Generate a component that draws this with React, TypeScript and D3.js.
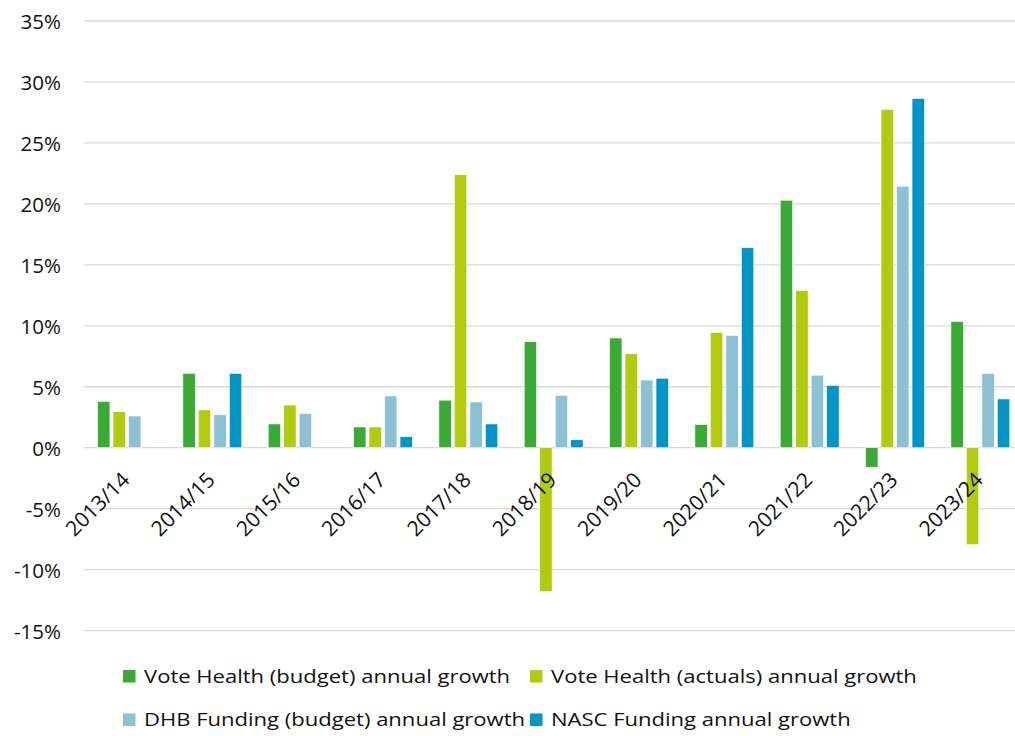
import React from "react";
import * as d3 from "d3";

const categories = ["2013/14","2014/15","2015/16","2016/17","2017/18","2018/19","2019/20","2020/21","2021/22","2022/23","2023/24"];
const seriesNames = [
  "Vote Health (budget) annual growth",
  "Vote Health (actuals) annual growth",
  "DHB Funding (budget) annual growth",
  "NASC Funding annual growth",
];
const voteBudget = [3.8, 6.1, 1.95, 1.7, 3.9, 8.7, 9.0, 1.9, 20.3, -1.6, 10.35];
const voteActuals = [2.95, 3.1, 3.5, 1.7, 22.4, -11.8, 7.7, 9.45, 12.9, 27.75, -7.95];
const dhbBudget = [2.6, 2.7, 2.8, 4.25, 3.75, 4.3, 5.55, 9.2, 5.95, 21.45, 6.1];
const nascFunding: (number | null)[] = [null, 6.1, null, 0.9, 1.95, 0.65, 5.7, 16.4, 5.1, 28.65, 4.0];
const yTicks = [-15, -10, -5, 0, 5, 10, 15, 20, 25, 30, 35];
const colors = ["#3AAA35", "#B1CB0E", "#8BC1D3", "#0095C7"];

const W = 1015, H = 736;
const FONT = "'Open Sans', sans-serif";

export default function App() {
  const series = [voteBudget, voteActuals, dhbBudget, nascFunding];
  const x0 = d3.scaleBand<string>().domain(categories).range([84.3, 1023]).paddingInner(0.31).paddingOuter(0.155);
  const x1 = d3.scaleBand<number>().domain([0, 1, 2, 3]).range([0, x0.bandwidth()]).paddingInner(0.2).paddingOuter(0);
  const y = d3.scaleLinear().domain([-15, 35]).range([630.6, 21]);

  const legendPos = [
    { x: 123, y: 670 },
    { x: 530, y: 670 },
    { x: 123, y: 713.5 },
    { x: 530, y: 713.5 },
  ];

  return (
    <svg width={W} height={H} style={{ position: "absolute", left: 0, top: 0, background: "#fff" }} fontFamily={FONT}>
      <rect x={0} y={0} width={W} height={H} fill="#fff" />
      {yTicks.map((t) => (
        <g key={t}>
          <line x1={84} x2={W} y1={y(t)} y2={y(t)} stroke="#D9D9D9" strokeWidth={1.3} />
          <text x={61} y={y(t)} textAnchor="end" dominantBaseline="central" fontSize={20.5} fill="#111">
            {t}%
          </text>
        </g>
      ))}
      {categories.map((c, i) => (
        <g key={c} transform={`translate(${x0(c)},0)`}>
          {series.map((s, j) => {
            const v = s[i];
            if (v === null || v === undefined) return null;
            const y0 = y(0), yv = y(v);
            return (
              <rect key={j} x={x1(j)} width={x1.bandwidth()} y={Math.min(y0, yv)} height={Math.abs(yv - y0)} fill={colors[j]} stroke="#fff" strokeWidth={0.6} />
            );
          })}
        </g>
      ))}
      {categories.map((c) => {
        const cx = (x0(c) as number) + x0.bandwidth() / 2 + 4;
        const cy = y(0) + 33.5;
        return (
          <text key={c} transform={`translate(${cx},${cy}) rotate(-45)`} textAnchor="end" fontSize={21} fill="#111">
            {c}
          </text>
        );
      })}
      {seriesNames.map((n, j) => (
        <g key={n} transform={`translate(${legendPos[j].x},${legendPos[j].y})`}>
          <rect x={0} y={0} width={12.5} height={12.5} fill={colors[j]} />
          <text transform="translate(21,12.5) scale(1.16,1)" fontSize={19} fill="#111">{n}</text>
        </g>
      ))}
    </svg>
  );
}
